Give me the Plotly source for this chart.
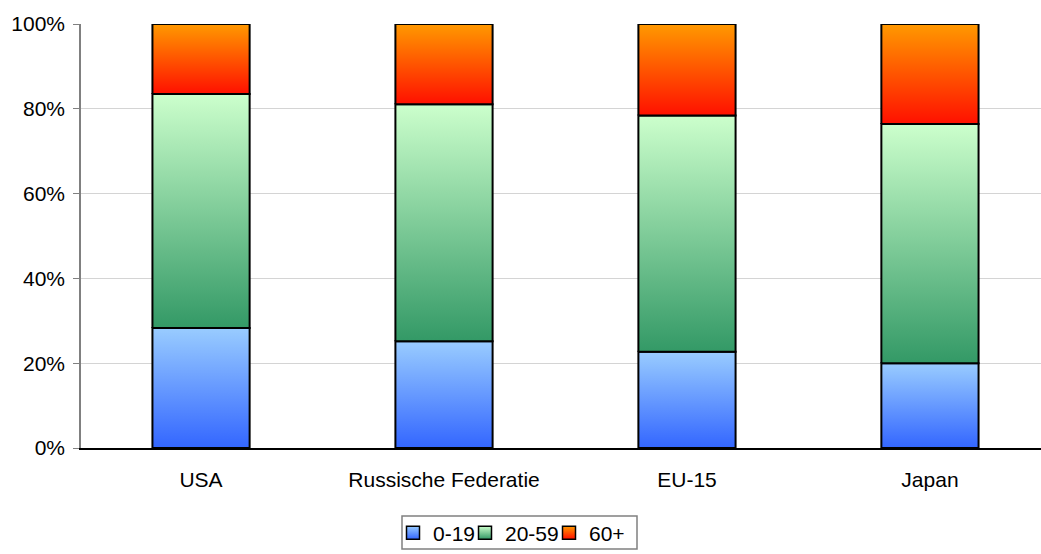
import plotly.graph_objects as go

categories = ["USA", "Russische Federatie", "EU-15", "Japan"]
series_names = ["0-19", "20-59", "60+"]
age_0_19 = [28.3, 25.2, 22.7, 20.0]
age_20_59 = [55.2, 55.9, 55.7, 56.4]
age_60_plus = [16.5, 18.9, 21.6, 23.6]
y_ticks = [0, 20, 40, 60, 80, 100]

series_values = [age_0_19, age_20_59, age_60_plus]
# gradient: (bottom colour, top colour)
gradients = [("#3366FF", "#99CCFF"), ("#339966", "#CCFFCC"), ("#FF1000", "#FF9900")]

HALF_W = 0.2
W, H = 1041, 554
fig = go.Figure()
bases = [0.0] * len(categories)
for s, (name, vals) in enumerate(zip(series_names, series_values)):
    bottom_c, top_c = gradients[s]
    for i, v in enumerate(vals):
        b = bases[i]
        t = b + v
        fig.add_trace(go.Scatter(
            x=[i - HALF_W, i + HALF_W, i + HALF_W, i - HALF_W, i - HALF_W],
            y=[b, b, t, t, b],
            mode="lines",
            fill="toself",
            fillgradient=dict(type="vertical", colorscale=[[0, bottom_c], [1, top_c]],
                              start=b, stop=t),
            line=dict(color="#000000", width=2),
            name=name,
            legendgroup=name,
            showlegend=False,
            hoverinfo="skip",
        ))
        bases[i] = t

# legend entries, one small legend per series so spacing can match the reference
legend_keys = ["legend", "legend2", "legend3"]
legend_left_px = [393, 465, 549]
for s, name in enumerate(series_names):
    bottom_c, top_c = gradients[s]
    fig.add_trace(go.Scatter(
        x=[None], y=[None], mode="markers", name=name, legendgroup=name,
        legend=legend_keys[s],
        marker=dict(symbol="square", size=13, color=top_c,
                    gradient=dict(type="vertical", color=bottom_c),
                    line=dict(color="#000000", width=1.5)),
        showlegend=True,
    ))

legend_layout = {}
for key, left in zip(legend_keys, legend_left_px):
    legend_layout[key] = dict(
        orientation="h", xref="container", yref="container",
        x=left / W, xanchor="left", y=(H - 533) / H, yanchor="middle",
        borderwidth=0, bgcolor="rgba(0,0,0,0)",
        font=dict(size=21), itemwidth=30, tracegroupgap=0,
    )

fig.update_layout(
    width=W, height=H,
    margin=dict(l=81, r=0, t=24, b=106),
    paper_bgcolor="white", plot_bgcolor="white",
    font=dict(family="Liberation Sans, Arial, sans-serif", size=21, color="#000000"),
    showlegend=True,
    xaxis=dict(
        range=[-0.494, 3.457], tickvals=list(range(len(categories))), ticktext=categories,
        showgrid=False, zeroline=False, showline=True, linecolor="#000000", linewidth=1.5,
        ticks="", ticklabelstandoff=12, fixedrange=True, automargin=False,
    ),
    yaxis=dict(
        range=[0, 100], tickvals=y_ticks, ticktext=[f"{v}%" for v in y_ticks],
        showgrid=True, gridcolor="#D4D4D4", gridwidth=1,
        zeroline=False, showline=True, linecolor="#808080", linewidth=1.5,
        ticks="outside", ticklen=6, tickcolor="#808080", ticklabelstandoff=4,
        fixedrange=True, automargin=False,
    ),
    shapes=[dict(
        type="rect", xref="paper", yref="paper",
        x0=(402 - 81) / 960, x1=(637 - 81) / 960,
        y0=(448 - 549) / 424, y1=(448 - 516) / 424,
        line=dict(color="#808080", width=1.5), fillcolor="rgba(0,0,0,0)",
    )],
    **legend_layout,
)

fig.write_html("out.html", config={"displayModeBar": False},
               post_script="document.body.style.margin='0';")
